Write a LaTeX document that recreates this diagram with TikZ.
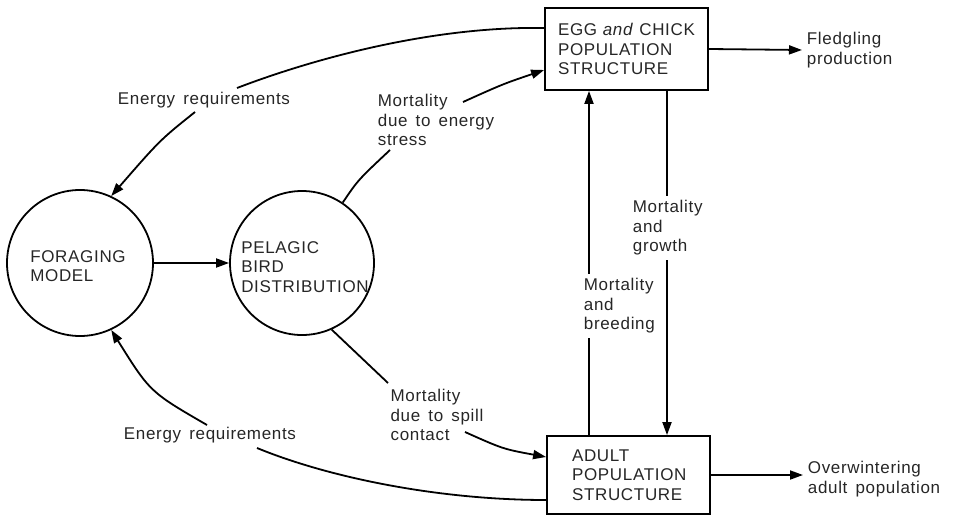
\documentclass[tikz,border=0pt]{standalone}
\usepackage{fontspec}
\setmainfont{Liberation Sans}[LetterSpace=4, WordSpace=1.5]
\usetikzlibrary{arrows.meta}
\begin{document}
\begin{tikzpicture}[x=1pt,y=-1pt,
  line width=1.8pt,
  every node/.style={font=\fontsize{17}{19.5}\selectfont, align=left, inner sep=0pt, text=black!85},
  circ/.style={draw, circle, minimum size=146pt},
  box/.style={draw, rectangle, minimum width=163pt},
  lab/.style={align=left, inner sep=4pt},
  arr/.style={-{Triangle[length=13pt,width=9pt]}},
]
\useasboundingbox (0,0) rectangle (961,516);
% main nodes
\node[circ] (fm) at (80,263) {};
\node (fmt) at (78,266) {FORAGING\\MODEL};
\node[circ, minimum size=144pt] (pb) at (302,263) {};
\node (pbt) at (305,267) {PELAGIC\\BIRD\\DISTRIBUTION};
\node[box, minimum height=82pt, text width=137pt] (egg) at (626.5,49) {EGG \textit{and} CHICK\\POPULATION\\STRUCTURE};
\node[box, minimum height=78pt, text width=113pt] (ad) at (628.5,475) {ADULT\\POPULATION\\STRUCTURE};
% labels
\node[lab, anchor=west] (fled) at (802,50) {Fledgling\\production};
\node[lab, anchor=west] (ow) at (803,479) {Overwintering\\adult population};
\node[lab] (et) at (204,100) {Energy requirements};
\node[lab] (eb) at (210,435) {Energy requirements};
\node[lab] (ms) at (436,120) {Mortality\\due to energy\\stress};
\node[lab] (msp) at (437,415) {Mortality\\due to spill\\contact};
\node[lab, anchor=west] (mb) at (579,306) {Mortality\\and\\breeding};
\node[lab, anchor=west] (mg) at (628,228) {Mortality\\and\\growth};
% helper coordinates
\coordinate (vu) at (589,0);
\coordinate (vd) at (667,0);
\coordinate (et1) at (237,88);
\coordinate (et2) at (195,112);
\coordinate (eb1) at (257,448);
\coordinate (eb2) at (207,425);
\coordinate (ms1) at (390,150);
\coordinate (ms2) at (463,102);
\coordinate (sp1) at (388,383);
\coordinate (sp2) at (465,432);
% connectors
\draw[arr] (fm) -- (pb);
\draw[arr] (egg.east) -- (fled.west);
\draw[arr] (ad.east) -- (ad.east -| ow.west);
\draw (vu |- ad.north) -- (vu |- mb.south);
\draw[arr] (vu |- mb.north) -- (vu |- egg.south);
\draw (vd |- egg.south) -- (vd |- mg.north);
\draw[arr] (vd |- mg.south) -- (vd |- ad.north);
\draw ([yshift=21pt]egg.west) .. controls (430,26) and (310,60) .. (et1);
\draw[arr] (et2) .. controls (160,140) .. (fm.65);
\draw ([yshift=-25pt]ad.west) .. controls (440,500) and (330,478) .. (eb1);
\draw[arr] (eb2) .. controls (150,392) .. (fm.-65);
\draw (pb.56) .. controls (358,180) .. (ms1);
\draw[arr] (ms2) .. controls (503,84) .. ([yshift=-21pt]egg.west);
\draw (pb.-66) -- (sp1);
\draw[arr] (sp2) .. controls (503,449) .. ([yshift=18pt]ad.west);
\end{tikzpicture}
\end{document}
